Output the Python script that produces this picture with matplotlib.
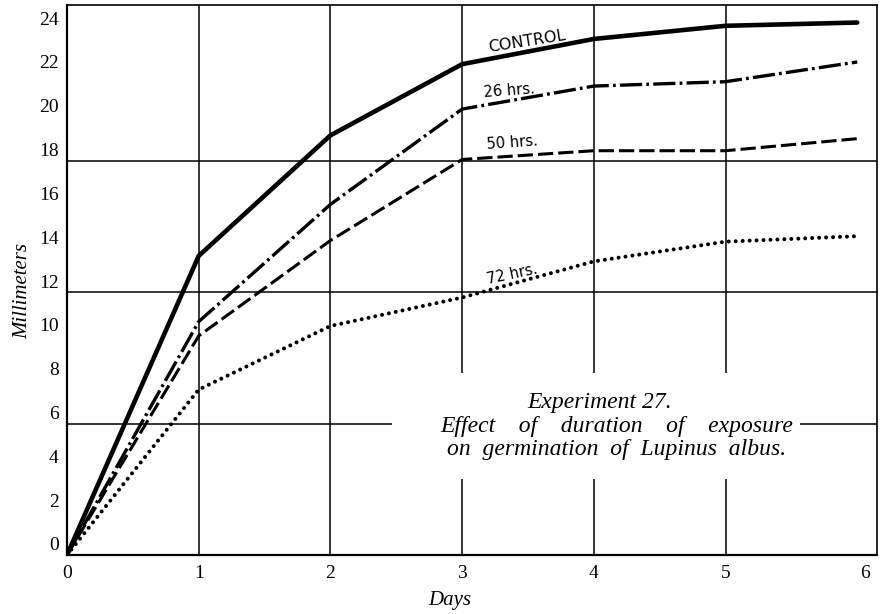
import matplotlib.pyplot as plt
import matplotlib.patches as patches
from matplotlib.transforms import ScaledTranslation

plt.rcParams['lines.scale_dashes'] = False

# Data (millimeters per day)
days = [0, 1, 2, 3, 4, 5, 6]
control = [0, 13.65, 19.15, 22.4, 23.55, 24.15, 24.3]
hrs_26 = [0, 10.65, 16.0, 20.35, 21.4, 21.6, 22.5]
hrs_50 = [0, 10.0, 14.35, 18.05, 18.45, 18.45, 19.0]
hrs_72 = [0, 7.55, 10.45, 11.75, 13.4, 14.3, 14.55]

y_ticks = list(range(0, 25, 2))
x_ticks = days
grid_y = [6, 12, 18]
grid_x = [1, 2, 3, 4, 5]

SERIF = 'Liberation Serif'

fig = plt.figure(figsize=(8.83, 6.14), dpi=100)
ax = fig.add_axes([67/883, 59/614, 810/883, 550/614])
ax.set_xlim(0, 6.15)
ax.set_ylim(0, 25.1)

# Grid drawn on minor ticks only (they overlap major positions, keep them)
ax.xaxis.remove_overlapping_locs = False
ax.yaxis.remove_overlapping_locs = False
ax.set_xticks(x_ticks)
ax.set_yticks(y_ticks)
ax.set_xticks(grid_x, minor=True)
ax.set_yticks(grid_y, minor=True)
ax.grid(False)
ax.grid(True, which='minor', color='black', linewidth=1.1)
ax.set_axisbelow(True)
ax.tick_params(which='both', length=0)
ax.tick_params(which='major', labelsize=14, labelfontfamily=SERIF)
ax.tick_params(axis='y', pad=6)
ax.tick_params(axis='x', pad=7)
for s in ax.spines.values():
    s.set_linewidth(1.2)
ax.spines['left'].set_linewidth(1.6)
ax.spines['bottom'].set_linewidth(1.6)

ax.set_xlabel('Days', fontfamily=SERIF, fontstyle='italic', fontsize=15)
ax.xaxis.set_label_coords(0.473, -0.066)
ax.set_ylabel('Millimeters', fontfamily=SERIF, fontstyle='italic', fontsize=15)
ax.yaxis.set_label_coords(-0.043, 0.48)

# Curves
ax.plot(days, control, color='black', lw=3.3, solid_capstyle='round', zorder=3)
ax.plot(days, hrs_26, color='black', lw=2.4, linestyle=(0, (16, 3, 2, 3)), zorder=3)
ax.plot(days, hrs_50, color='black', lw=2.2, linestyle=(0, (11, 3.6)), zorder=3)
ax.plot(days, hrs_72, color='black', lw=2.9, linestyle=(0, (0.01, 5)),
        dash_capstyle='round', zorder=3)

# Curve labels
lab_kw = dict(family='DejaVu Sans', ha='center', va='center', color='black', zorder=4)
ax.text(3.49, 23.45, 'CONTROL', fontsize=11.5, rotation=9, **lab_kw)
ax.text(3.36, 21.2, '26 hrs.', fontsize=10.5, rotation=4, **lab_kw)
ax.text(3.38, 18.8, '50 hrs.', fontsize=10.5, rotation=4, **lab_kw)
ax.text(3.38, 12.8, '72 hrs.', fontsize=10.5, rotation=12, **lab_kw)

# White panel behind the caption, interrupting the grid
ax.add_patch(patches.Rectangle((0.401, 0.138), 0.504, 0.193, transform=ax.transAxes,
                               facecolor='white', edgecolor='none', zorder=1))
cap_kw = dict(family=SERIF, style='italic', fontsize=17, ha='center', va='baseline',
              transform=ax.transAxes, zorder=4)
ax.text(0.658, (555-408)/550, 'Experiment 27.', **cap_kw)
ax.text(0.679, (555-432)/550, 'Effect    of    duration    of    exposure', **cap_kw)
ax.text(0.679, (555-455)/550, 'on  germination  of  Lupinus  albus.', **cap_kw)

# Labels of the plate sit a little above their values; the last day label a bit right
fig.canvas.draw()
for lab in ax.get_yticklabels():
    lab.set_transform(lab.get_transform() + ScaledTranslation(0, 0.11, fig.dpi_scale_trans))
xlabs = ax.get_xticklabels()
xlabs[-1].set_transform(xlabs[-1].get_transform() + ScaledTranslation(0.08, 0, fig.dpi_scale_trans))

fig.savefig('out.png', dpi=100)
